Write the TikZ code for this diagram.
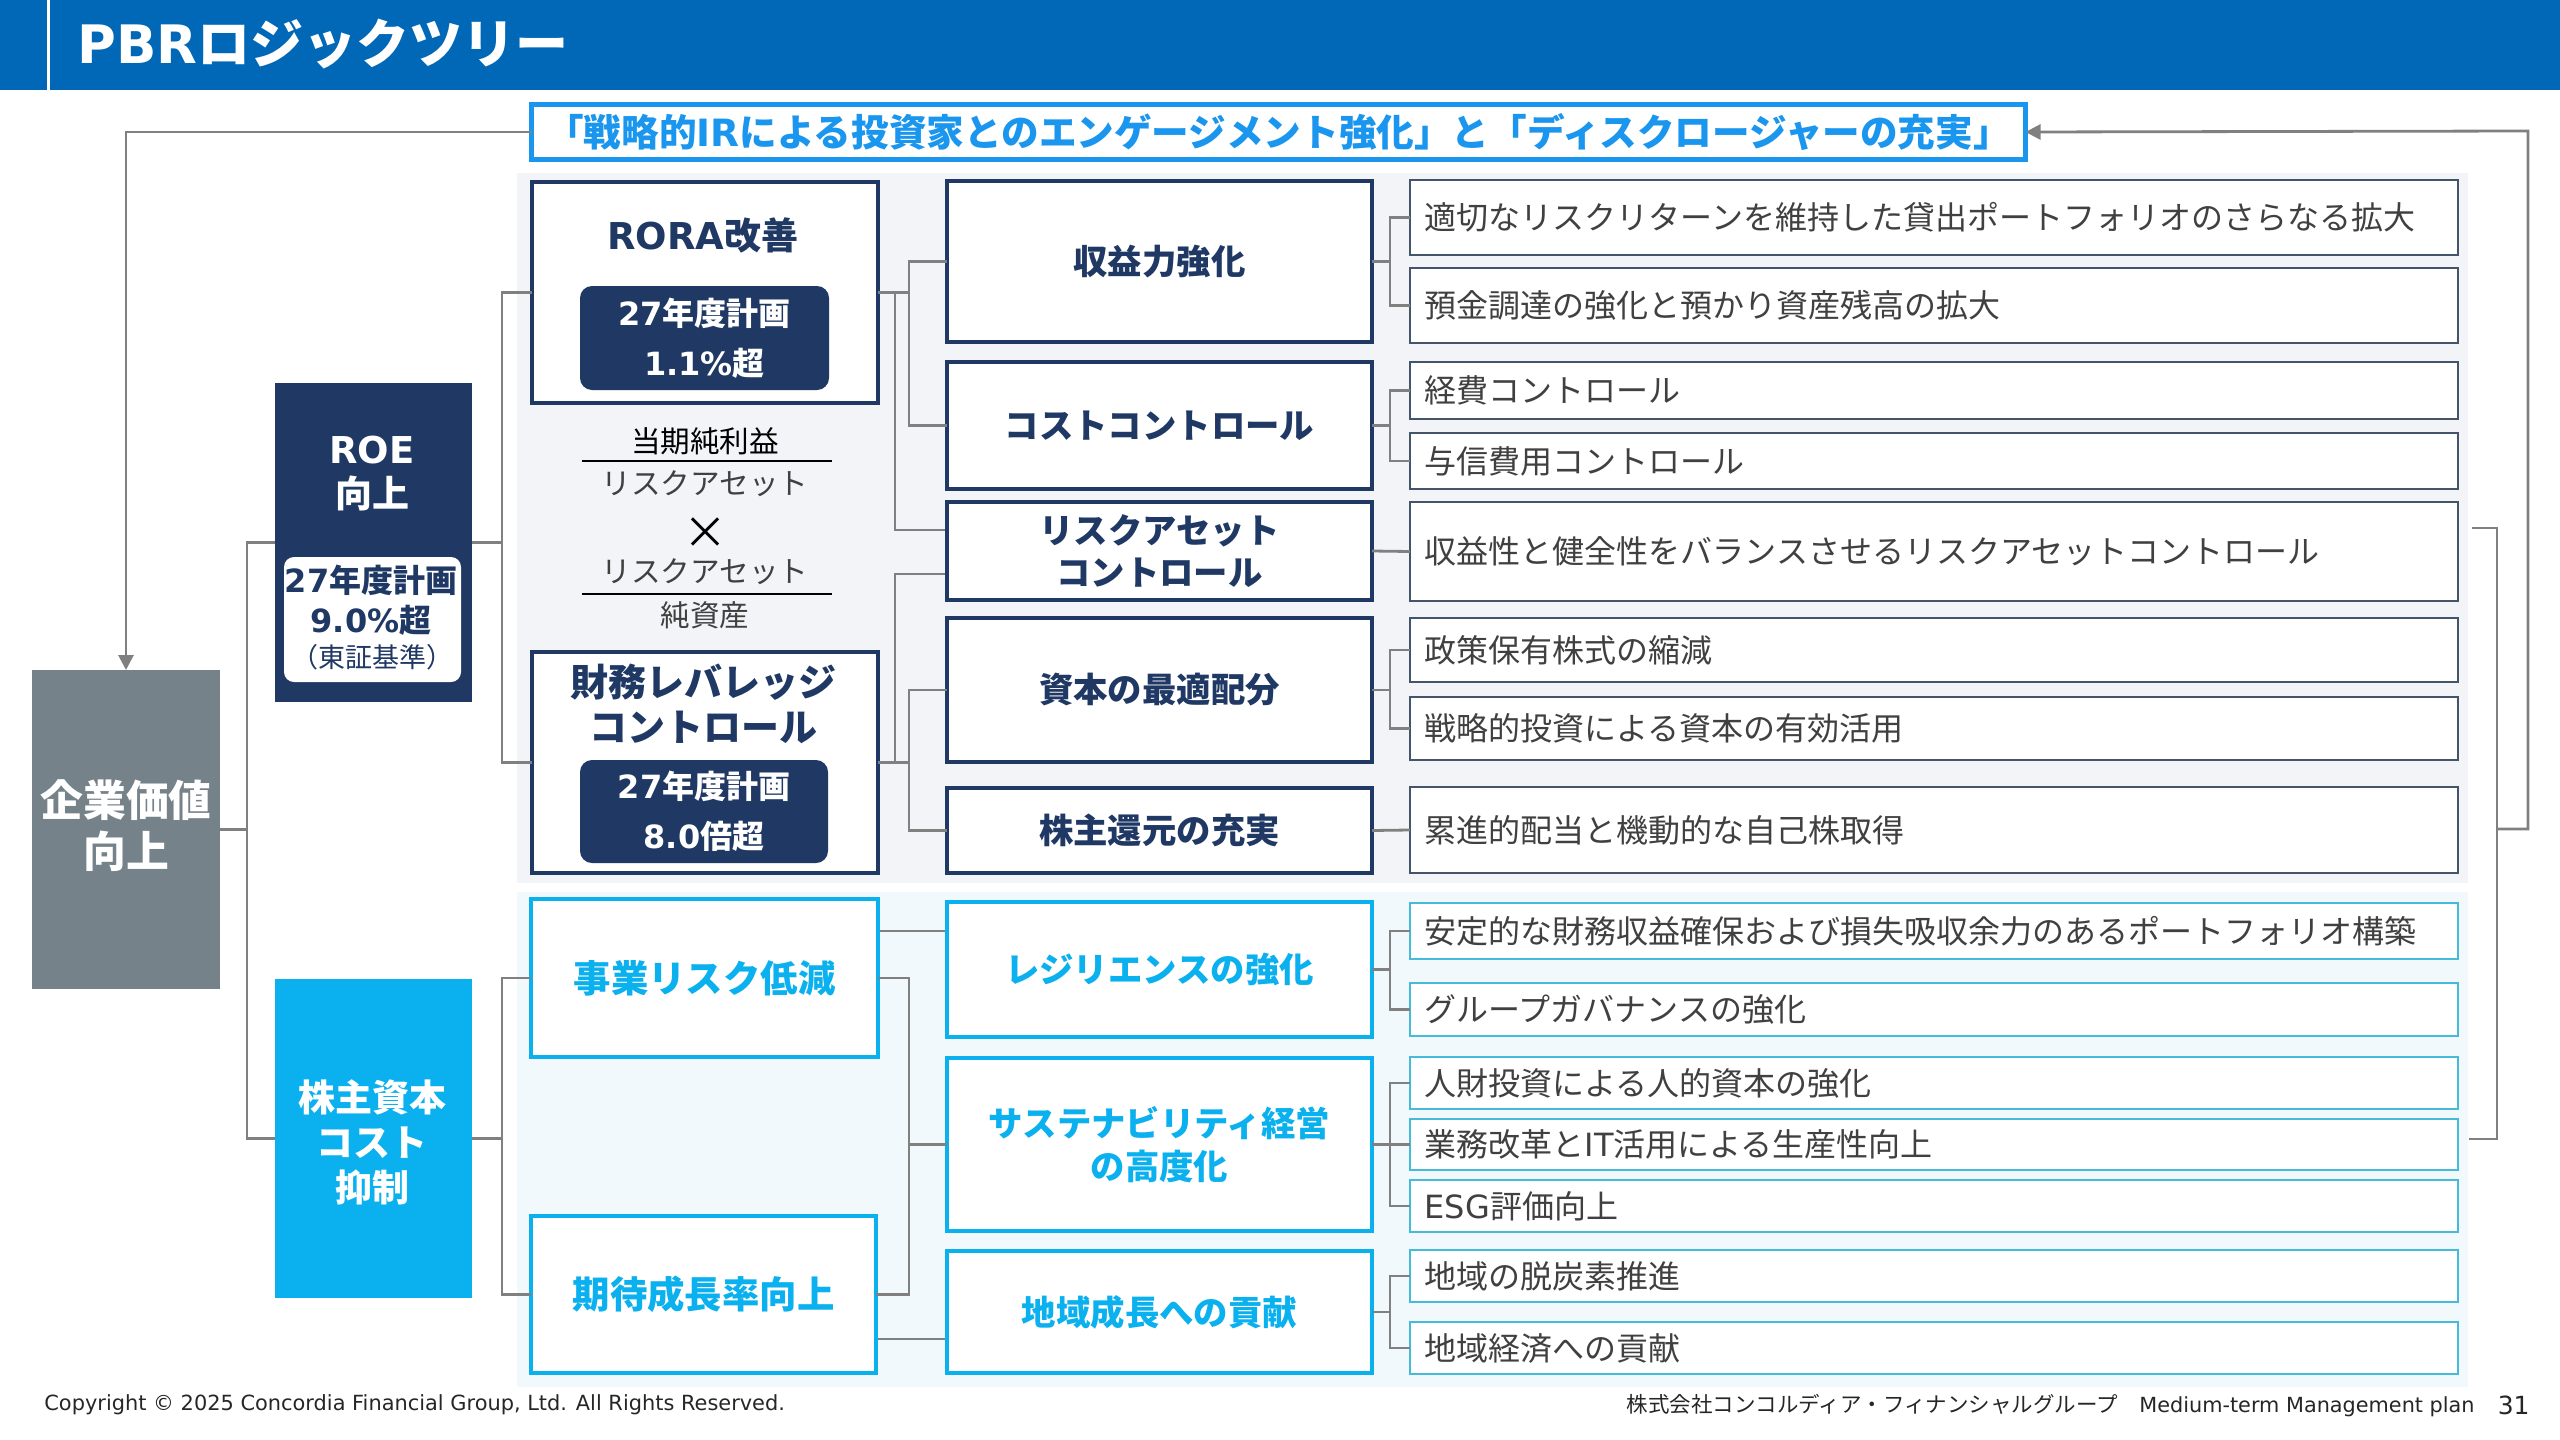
\documentclass[tikz,border=0pt]{standalone}
\usepackage{fontspec}
\setmainfont{Noto Sans CJK JP}
\newfontfamily\latfont{DejaVu Sans}
\usetikzlibrary{arrows.meta}
\definecolor{headblue}{HTML}{0068B7}
\definecolor{bannerblue}{HTML}{1A96EE}
\definecolor{navy}{HTML}{1F3864}
\definecolor{skyblue}{HTML}{0BB0EE}
\definecolor{slate}{HTML}{76828A}
\definecolor{linegray}{HTML}{808080}
\definecolor{panelgray}{HTML}{F2F4F7}
\definecolor{panelblue}{HTML}{F2F9FD}
\definecolor{subnavy}{HTML}{44546A}
\definecolor{subsky}{HTML}{45BAD9}
\definecolor{bodytext}{HTML}{404040}
\newcommand{\lat}[1]{{\latfont #1}}
\newcommand{\fsize}[2]{\fontsize{#1}{#2}\selectfont}
\def\pbrnode[#1](#2)(#3,#4,#5,#6)#7{\node[#1, minimum width={(#5-#3)*0.5pt}, minimum height={(#6-#4)*0.5pt}] (#2) at ({(#3+#5)/2},{(#4+#6)/2}) {#7};}
\tikzset{
	conn/.style={draw=linegray, line width=1.4pt},
	tipped/.style={conn, -{Triangle[length=7.5pt, width=7.5pt]}},
	flat/.style={inner sep=0, outer sep=0},
	navybox/.style={flat, draw=navy, fill=white, line width=2pt, text=navy, align=center, font=\bfseries\fsize{17.2}{21}},
	skybox/.style={flat, draw=skyblue, fill=white, line width=2pt, text=skyblue, align=center, font=\bfseries\fsize{17.2}{21.5}},
	subnavybox/.style={flat, draw=subnavy, fill=white, line width=1pt, text=bodytext, align=left, text width=509pt, inner xsep=7.5pt, font=\fsize{16}{20}},
	subskybox/.style={subnavybox, draw=subsky},
	solidbox/.style={flat, text=white, align=center},
	plate/.style={flat, rounded corners=6pt, fill=navy, text=white, align=center, font=\bfseries\fsize{16}{25}},
	plain/.style={inner sep=0, align=center},
	fracline/.style={draw=black, line width=1pt}
}

\begin{document}
\begin{tikzpicture}[x=0.5pt, y=-0.5pt]
	\useasboundingbox (0, 0) rectangle (2560, 1440);
	%%%%% HEADER %%%%%
	\pbrnode[flat, fill=headblue](headbar)(0,0,2560,90){}
	\pbrnode[flat, fill=white](headrule)(47,0,50,90){}
	\node[plain, anchor=west, text=white, font=\bfseries\fsize{26.5}{30}] (title) at (77, 44) {\lat{PBR}ロジックツリー};

	%%%%% PANELS %%%%%
	\pbrnode[flat, fill=panelgray](panelroe)(517,173,2468,883){}
	\pbrnode[flat, fill=panelblue](panelcoe)(517,892,2468,1387){}

	%%%%% LEFT COLUMN %%%%%
	\pbrnode[flat, draw=bannerblue, fill=white, line width=2.5pt, text=bannerblue, font=\bfseries\fsize{18.8}{22}](banner)(531.5,104.5,2025.5,159.5){「戦略的\lat{IR}による投資家とのエンゲージメント強化」と「ディスクロージャーの充実」}
	\pbrnode[solidbox, fill=slate](corp)(32,670,220,989){}
	\node[plain, text=white, font=\bfseries\fsize{21.4}{25.5}] (corplabel) at (126, 826) {企業価値\\向上};
	\pbrnode[solidbox, fill=navy](roe)(275,383,472,702){}
	\node[plain, text=white, font=\bfseries\fsize{18.5}{22}] (roelabel) at (372, 474) {\lat{ROE}\\向上};
	\pbrnode[flat, fill=white, rounded corners=5pt](roeplate)(284,557,461,682){}
	\node[plain, text=navy, font=\bfseries\fsize{16}{20}] (roegoal) at (371, 600) {\lat{27}年度計画\\\lat{9.0\%}超};
	\node[plain, text=navy, font=\fsize{13.5}{16}] (roenote) at (372, 657) {（東証基準）};
	\pbrnode[solidbox, fill=skyblue](coe)(275,979,472,1298){}
	\node[plain, text=white, font=\bfseries\fsize{18.5}{22.5}] (coelabel) at (372, 1142) {株主資本\\コスト\\抑制};

	%%%%% SECOND COLUMN %%%%%
	\pbrnode[navybox](rora)(532,182,878,403){}
	\node[plain, text=navy, font=\bfseries\fsize{18.5}{23}] (roralabel) at (703, 235) {\lat{RORA}改善};
	\pbrnode[plate](roraplan)(580,286,829,390){\lat{27}年度計画\\\lat{1.1\%}超}
	\node[plain, text=black, font=\fsize{14.8}{18}] (fracatop) at (705, 441) {当期純利益};
	\coordinate (fracaleft) at (582, 461);
	\coordinate (fracaright) at (832, 461);
	\node[plain, text=bodytext, font=\fsize{14.8}{18}] (fracabot) at (705, 484) {リスクアセット};
	\node[plain, text=black, font=\fsize{22}{24}] (times) at (705, 533) {×};
	\node[plain, text=bodytext, font=\fsize{14.8}{18}] (fracbtop) at (705, 572) {リスクアセット};
	\coordinate (fracbleft) at (582, 594);
	\coordinate (fracbright) at (832, 594);
	\node[plain, text=bodytext, font=\fsize{14.8}{18}] (fracbbot) at (705, 615) {純資産};
	\draw[fracline] (fracaleft) -- (fracaright);
	\draw[fracline] (fracbleft) -- (fracbright);
	\pbrnode[navybox](lever)(532,652,878,873){}
	\node[plain, text=navy, font=\bfseries\fsize{19}{22.5}] (leverlabel) at (703, 704) {財務レバレッジ\\コントロール};
	\pbrnode[plate](leverplan)(580,760,828,863){\lat{27}年度計画\\\lat{8.0}倍超}
	\pbrnode[skybox, font=\bfseries\fsize{18.7}{23}](bizrisk)(531,899,878,1057){事業リスク低減}
	\pbrnode[skybox, font=\bfseries\fsize{18.7}{23}](growth)(531,1216,876,1373){期待成長率向上}

	%%%%% THIRD COLUMN %%%%%
	\pbrnode[navybox](earn)(947,181,1372,342){収益力強化}
	\pbrnode[navybox](cost)(947,362,1372,489){コストコントロール}
	\pbrnode[navybox](riskasset)(947,502,1372,600){リスクアセット\\コントロール}
	\pbrnode[navybox](alloc)(947,618,1372,762){資本の最適配分}
	\pbrnode[navybox](payout)(947,788,1372,873){株主還元の充実}
	\pbrnode[skybox](resil)(947,902,1372,1037){レジリエンスの強化}
	\pbrnode[skybox](sustain)(947,1058,1372,1231){サステナビリティ経営\\の高度化}
	\pbrnode[skybox](region)(947,1251,1372,1373){地域成長への貢献}

	%%%%% RIGHT COLUMN %%%%%
	\pbrnode[subnavybox](suba)(1410.5,180,2457,255){適切なリスクリターンを維持した貸出ポートフォリオのさらなる拡大}
	\pbrnode[subnavybox](subb)(1410.5,268,2457,343){預金調達の強化と預かり資産残高の拡大}
	\pbrnode[subnavybox](subc)(1410.5,362,2457,419){経費コントロール}
	\pbrnode[subnavybox](subd)(1410.5,433,2457,489){与信費用コントロール}
	\pbrnode[subnavybox](sube)(1410.5,502,2457,601){収益性と健全性をバランスさせるリスクアセットコントロール}
	\pbrnode[subnavybox](subf)(1410.5,618,2457,682){政策保有株式の縮減}
	\pbrnode[subnavybox](subg)(1410.5,697,2457,760){戦略的投資による資本の有効活用}
	\pbrnode[subnavybox](subh)(1410.5,787,2457,873){累進的配当と機動的な自己株取得}
	\pbrnode[subskybox](subi)(1410.5,903,2457,959){安定的な財務収益確保および損失吸収余力のあるポートフォリオ構築}
	\pbrnode[subskybox](subj)(1410.5,983,2457,1036){グループガバナンスの強化}
	\pbrnode[subskybox](subk)(1410.5,1057,2457,1109){人財投資による人的資本の強化}
	\pbrnode[subskybox](subl)(1410.5,1119,2457,1170){業務改革と\lat{IT}活用による生産性向上}
	\pbrnode[subskybox](subm)(1410.5,1180,2457,1232){\lat{ESG}評価向上}
	\pbrnode[subskybox](subn)(1410.5,1250,2457,1302){地域の脱炭素推進}
	\pbrnode[subskybox](subo)(1410.5,1322,2457,1374){地域経済への貢献}

	%%%%% CONNECTORS %%%%%
	\draw[tipped] (banner.west) -| (corp.north);
	\draw[conn] (corp.east) -- ++(27,0) |- (roe.west);
	\draw[conn] (corp.east) -- ++(27,0) |- (coe.west);
	\draw[conn] (roe.east) -- ++(30,0) |- (rora.west);
	\draw[conn] (roe.east) -- ++(30,0) |- (lever.west);
	\draw[conn] (coe.east) -- ++(30,0) |- (bizrisk.west);
	\draw[conn] (coe.east) -- ++(30,0) |- (growth.west);

	\coordinate (riskinup) at (945, 530);
	\coordinate (riskinlow) at (945, 574);
	\draw[conn] (rora.east) -- ++(31,0) |- (earn.west);
	\draw[conn] (rora.east) -- ++(31,0) |- (cost.west);
	\draw[conn] (rora.east) -- ++(17,0) |- (riskinup);
	\draw[conn] (lever.east) -- ++(17,0) |- (riskinlow);
	\draw[conn] (lever.east) -- ++(31,0) |- (alloc.west);
	\draw[conn] (lever.east) -- ++(31,0) |- (payout.west);

	\coordinate (bizout) at (880, 931);
	\coordinate (resilin) at (945, 931);
	\draw[conn] (bizout) -- (resilin);
	\draw[conn] (bizrisk.east) -- ++(31,0) |- (sustain.west);
	\draw[conn] (growth.east) -- ++(33,0) |- (sustain.west);
	\coordinate (growthout) at (878, 1339);
	\coordinate (regionin) at (945, 1339);
	\draw[conn] (growthout) -- (regionin);

	\draw[conn] (earn.east) -- ++(18,0) |- (suba.west);
	\draw[conn] (earn.east) -- ++(18,0) |- (subb.west);
	\draw[conn] (cost.east) -- ++(18,0) |- (subc.west);
	\draw[conn] (cost.east) -- ++(18,0) |- (subd.west);
	\draw[conn] (riskasset.east) -- (sube.west);
	\draw[conn] (alloc.east) -- ++(18,0) |- (subf.west);
	\draw[conn] (alloc.east) -- ++(18,0) |- (subg.west);
	\draw[conn] (payout.east) -- (subh.west);
	\draw[conn] (resil.east) -- ++(18,0) |- (subi.west);
	\draw[conn] (resil.east) -- ++(18,0) |- (subj.west);
	\draw[conn] (sustain.east) -- ++(18,0) |- (subk.west);
	\draw[conn] (sustain.east) -- (subl.west);
	\draw[conn] (sustain.east) -- ++(18,0) |- (subm.west);
	\draw[conn] (region.east) -- ++(18,0) |- (subn.west);
	\draw[conn] (region.east) -- ++(18,0) |- (subo.west);

	\coordinate (bracktop) at (2472, 528);
	\coordinate (brackcorner) at (2497, 528);
	\coordinate (brackbot) at (2469, 1139);
	\coordinate (brackmid) at (2497, 829);
	\coordinate (loopcorner) at (2528, 829);
	\coordinate (looptop) at (2528, 131);
	\draw[conn] (bracktop) -- (brackcorner) |- (brackbot);
	\draw[tipped] (brackmid) -- (loopcorner) -- (looptop) -- (banner.east);

	%%%%% FOOTER %%%%%
	\node[plain, anchor=west, text=black!85, font=\fsize{10.45}{13}] (copyright) at (44, 1405) {\lat{Copyright © 2025 Concordia Financial Group, Ltd. All Rights Reserved.}};
	\node[plain, anchor=east, text=black!85, font=\fsize{10.75}{13}] (company) at (2475, 1405) {株式会社コンコルディア・フィナンシャルグループ\hspace{1em}{\fsize{10.4}{13}\lat{Medium-term Management plan}}};
	\node[plain, anchor=east, text=black!85, font=\fsize{12.5}{15}] (pageno) at (2530, 1405) {\lat{31}};
\end{tikzpicture}
\end{document}
